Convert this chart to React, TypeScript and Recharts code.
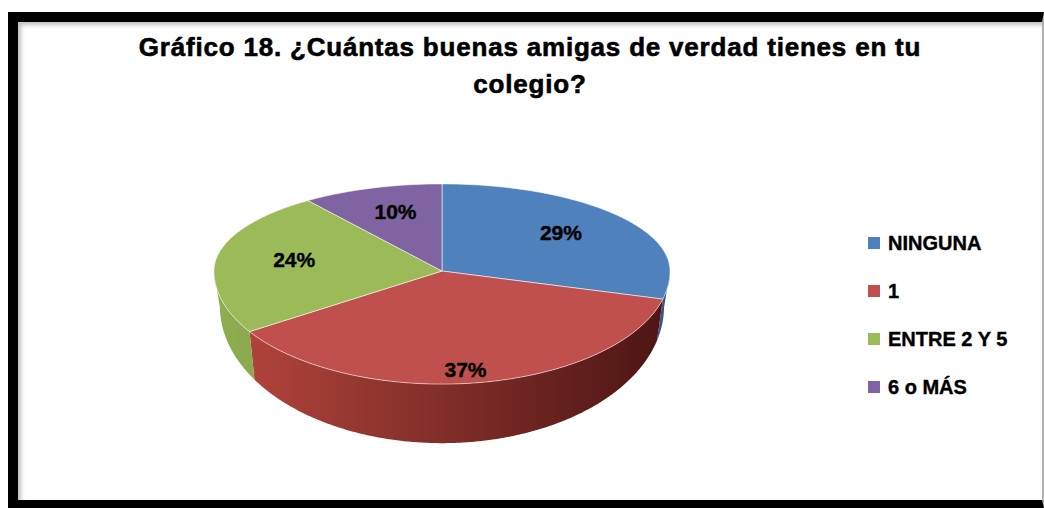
import React from 'react';
import { PieChart, Pie, Cell, Legend } from 'recharts';

// chart values
const categories = ['NINGUNA', '1', 'ENTRE 2 Y 5', '6 o MÁS'];
const percentages = [29, 37, 24, 10];
const titleLines = ['Gráfico 18. ¿Cuántas buenas amigas de verdad tienes en tu', 'colegio?'];

// office 2007 palette
const topColors = ['#4f81bd', '#c0504d', '#9bbb59', '#8064a2'];
const sideStops = [
  ['#4f81bd', '#33578a'],
  ['#b8473f', '#4b1513'],
  ['#8fae50', '#5e7430'],
  ['#8064a2', '#4e3a66'],
];

const data = categories.map((name, i) => ({ name, value: percentages[i] }));

const RAD = Math.PI / 180;
const FONT = '"Liberation Sans", Arial, sans-serif';

// perspective of the tilted disc, as fractions of the radius
const UP = 0.382; // far half of the top face
const DOWN = 0.496; // near half of the top face
const DROP = 0.155; // bottom face is shifted down...
const BOT_X = 0.974; // ...a bit narrower...
const BOT_DOWN = 0.6; // ...and more open

const topPt = (cx: number, cy: number, r: number, deg: number) => {
  const s = Math.sin(deg * RAD);
  return [cx + r * Math.cos(deg * RAD), cy - r * (s > 0 ? UP : DOWN) * s];
};

const botPt = (cx: number, cy: number, r: number, deg: number) => {
  const s = Math.sin(deg * RAD);
  return [cx + r * BOT_X * Math.cos(deg * RAD), cy + r * DROP - r * BOT_DOWN * s];
};

const sampleAngles = (a: number, b: number) => {
  const lo = Math.min(a, b);
  const hi = Math.max(a, b);
  const n = Math.max(2, Math.ceil((hi - lo) / 0.5));
  const out: number[] = [];
  for (let i = 0; i <= n; i++) out.push(lo + ((hi - lo) * i) / n);
  return out;
};

const toPath = (pts: number[][]) =>
  pts.map((p, i) => `${i ? 'L' : 'M'}${p[0].toFixed(2)},${p[1].toFixed(2)}`).join(' ') + ' Z';

const sliceIndex = (p: any) => {
  const name = p.name ?? p.payload?.name;
  const i = categories.indexOf(name);
  return i < 0 ? 0 : i;
};

const TopShape = (p: any) => {
  const { cx, cy, outerRadius, startAngle, endAngle, fill } = p;
  const pts = [[cx, cy], ...sampleAngles(startAngle, endAngle).map((a) => topPt(cx, cy, outerRadius, a))];
  return <path d={toPath(pts)} fill={fill} stroke="#ffffff" strokeOpacity={0.55} strokeWidth={1} />;
};

const SideShape = (p: any) => {
  const { cx, cy, outerRadius, startAngle, endAngle } = p;
  const idx = sliceIndex(p);
  // runs of the arc that face the viewer
  const runs: number[][] = [];
  let cur: number[] = [];
  sampleAngles(startAngle, endAngle).forEach((a) => {
    if (Math.sin(a * RAD) <= 1e-9) cur.push(a);
    else if (cur.length) {
      runs.push(cur);
      cur = [];
    }
  });
  if (cur.length) runs.push(cur);
  const gid = `side-grad-${idx}`;
  return (
    <g>
      <defs>
        <linearGradient id={gid} gradientUnits="userSpaceOnUse" x1={cx - outerRadius} y1={0} x2={cx + outerRadius} y2={0}>
          <stop offset="0" stopColor={sideStops[idx][0]} />
          <stop offset="1" stopColor={sideStops[idx][1]} />
        </linearGradient>
      </defs>
      {runs.map((run, k) => {
        const top = run.map((a) => topPt(cx, cy, outerRadius, a));
        const bot = run.map((a) => botPt(cx, cy, outerRadius, a)).reverse();
        return <path key={k} d={toPath([...top, ...bot])} fill={`url(#${gid})`} />;
      })}
    </g>
  );
};

const renderLabel = (p: any) => {
  const a = p.midAngle * RAD;
  const s = Math.sin(a);
  const x = p.cx + p.outerRadius * 0.66 * Math.cos(a);
  const y = p.cy - p.outerRadius * (s > 0 ? UP * 0.72 : DOWN * 0.88) * s;
  return (
    <text
      x={x}
      y={y}
      textAnchor="middle"
      dominantBaseline="central"
      fill="#000"
      stroke="#000"
      strokeWidth={0.4}
      fontFamily={FONT}
      fontWeight={700}
      fontSize={21}
    >
      {`${p.value}%`}
    </text>
  );
};

const renderLegend = (props: any) => {
  const items = (props.payload || [])
    .filter((it: any) => it.type !== 'none')
    .slice()
    .sort((a: any, b: any) => categories.indexOf(a.value) - categories.indexOf(b.value));
  return (
    <svg width={170} height={200} style={{ overflow: 'visible' }}>
      {items.map((it: any, i: number) => (
        <g key={it.value} transform={`translate(2, ${20 + i * 48})`}>
          <rect x={0} y={-6} width={12} height={12} fill={it.color} />
          <text
            x={20}
            y={0}
            dominantBaseline="central"
            fill="#000"
            stroke="#000"
            strokeWidth={0.4}
            fontFamily={FONT}
            fontWeight={700}
            fontSize={20}
          >
            {it.value}
          </text>
        </g>
      ))}
    </svg>
  );
};

export default function App() {
  return (
    <div style={{ position: 'absolute', left: 0, top: 0, width: 1044, height: 508, background: '#fff' }}>
      {/* black frame around the picture */}
      <div
        style={{
          position: 'absolute',
          left: 8,
          top: 12,
          width: 1036,
          height: 496,
          boxSizing: 'border-box',
          borderTop: '10px solid #000',
          borderLeft: '10px solid #000',
          borderBottom: '8px solid #000',
          borderRight: '2px solid #b0b0b0',
          boxShadow: 'inset 3px 3px 4px rgba(0,0,0,0.25)',
        }}
      />
      <svg width={1044} height={508} style={{ position: 'absolute', left: 0, top: 0 }}>
        {titleLines.map((t, i) => (
          <text
            key={i}
            x={530}
            y={56 + i * 37}
            textAnchor="middle"
            fill="#000"
            stroke="#000"
            strokeWidth={0.6}
            fontFamily={FONT}
            fontWeight={700}
            fontSize={26}
            letterSpacing={0.8}
          >
            {t}
          </text>
        ))}
      </svg>
      <div style={{ position: 'absolute', left: 0, top: 0 }}>
        <PieChart width={1044} height={508}>
          <Pie
            data={data}
            dataKey="value"
            nameKey="name"
            cx={437}
            cy={266}
            outerRadius={228}
            startAngle={90}
            endAngle={-270}
            stroke="none"
            legendType="none"
            shape={SideShape}
            isAnimationActive={false}
          >
            {data.map((d, i) => (
              <Cell key={d.name} fill={topColors[i]} />
            ))}
          </Pie>
          <Pie
            data={data}
            dataKey="value"
            nameKey="name"
            cx={437}
            cy={266}
            outerRadius={228}
            startAngle={90}
            endAngle={-270}
            stroke="none"
            legendType="square"
            shape={TopShape}
            label={renderLabel}
            labelLine={false}
            isAnimationActive={false}
          >
            {data.map((d, i) => (
              <Cell key={d.name} fill={topColors[i]} />
            ))}
          </Pie>
          <Legend
            layout="vertical"
            content={renderLegend}
            wrapperStyle={{ position: 'absolute', left: 866, top: 223, width: 170, height: 200 }}
          />
        </PieChart>
      </div>
    </div>
  );
}
